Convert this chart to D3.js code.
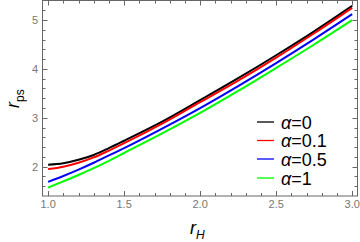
<!DOCTYPE html>
<html><head><meta charset="utf-8">
<script src="https://cdn.jsdelivr.net/npm/d3@7"></script>
<style>body{margin:0;background:#fff}svg{display:block}</style>
</head><body>
<svg id="c" width="360" height="242"></svg>
<script>
const rH = [1.0, 1.1, 1.2, 1.3, 1.4, 1.5, 1.75, 2.0, 2.25, 2.5, 2.75, 3.0];
const alpha0   = [2.04, 2.07, 2.14, 2.24, 2.38, 2.53, 2.92, 3.36, 3.81, 4.28, 4.77, 5.29];
const alpha01  = [1.95, 2.00, 2.08, 2.19, 2.33, 2.48, 2.88, 3.32, 3.76, 4.23, 4.73, 5.25];
const alpha05  = [1.69, 1.81, 1.94, 2.08, 2.23, 2.38, 2.78, 3.20, 3.65, 4.12, 4.61, 5.12];
const alpha1   = [1.57, 1.70, 1.83, 1.97, 2.12, 2.28, 2.68, 3.10, 3.55, 4.02, 4.50, 5.00];
const seriesNames = ["α=0", "α=0.1", "α=0.5", "α=1"];
const seriesColors = ["#000000", "#ff0000", "#0000ff", "#00ff00"];
const xTicks = [1.0, 1.5, 2.0, 2.5, 3.0];
const yTicks = [2, 3, 4, 5];

const series = [alpha0, alpha01, alpha05, alpha1];
const svg = d3.select("#c");
const L = 42.5, R = 357.5, T = 0.5, B = 196;
const x = d3.scaleLinear().domain([0.963, 3.035]).range([L, R]);
const y = d3.scaleLinear().domain([1.40, 5.40]).range([B, T]);
const frameColor = "#666";
const labColor = "#777";

// frame
svg.append("rect").attr("x", L).attr("y", T).attr("width", R - L).attr("height", B - T)
  .attr("fill", "none").attr("stroke", frameColor).attr("stroke-width", 1);

const xMinor = d3.range(10, 31).map(d => d / 10);
const yMinor = d3.range(8, 27).map(d => d / 5).filter(v => v >= 1.4 && v <= 5.4);
const tg = svg.append("g").attr("stroke", frameColor).attr("stroke-width", 1);
xMinor.forEach(v => {
  const major = xTicks.some(t => Math.abs(t - v) < 1e-6);
  const len = major ? 5 : 3;
  const px = Math.round(x(v)) + 0.5;
  tg.append("line").attr("x1", px).attr("x2", px).attr("y1", B).attr("y2", B - len);
  tg.append("line").attr("x1", px).attr("x2", px).attr("y1", T).attr("y2", T + len);
});
yMinor.forEach(v => {
  const major = yTicks.some(t => Math.abs(t - v) < 1e-6);
  const len = major ? 5 : 3;
  const py = Math.round(y(v)) + 0.5;
  tg.append("line").attr("x1", L).attr("x2", L + len).attr("y1", py).attr("y2", py);
  tg.append("line").attr("x1", R).attr("x2", R - len).attr("y1", py).attr("y2", py);
});

// tick labels
svg.append("g").selectAll("text").data(xTicks).join("text")
  .attr("x", d => x(d)).attr("y", 208).attr("text-anchor", "middle")
  .attr("font-family", "Liberation Sans, Arial, sans-serif").attr("font-size", 11)
  .attr("fill", labColor).text(d => d.toFixed(1));
svg.append("g").selectAll("text").data(yTicks).join("text")
  .attr("x", 38).attr("y", d => y(d) + 4).attr("text-anchor", "end")
  .attr("font-family", "Liberation Sans, Arial, sans-serif").attr("font-size", 11)
  .attr("fill", labColor).text(d => d);

// curves
const line = d3.line().x((d, i) => x(rH[i])).y(d => y(d)).curve(d3.curveMonotoneX);
series.forEach((s, i) => {
  svg.append("path").datum(s).attr("d", line).attr("fill", "none")
    .attr("stroke", seriesColors[i]).attr("stroke-width", 2);
});

// axis labels
const xl = svg.append("text").attr("x", 190).attr("y", 234)
  .attr("font-family", "Liberation Sans, Arial, sans-serif").attr("fill", "#000");
xl.append("tspan").attr("font-style", "italic").attr("font-size", 18).text("r");
xl.append("tspan").attr("font-style", "italic").attr("font-size", 12).attr("dy", 5).text("H");

const yl = svg.append("text").attr("transform", "translate(19,108) rotate(-90)")
  .attr("font-family", "Liberation Sans, Arial, sans-serif").attr("fill", "#000");
yl.append("tspan").attr("font-style", "italic").attr("font-size", 18).text("r");
yl.append("tspan").attr("font-size", 12).attr("dy", 5).text("ps");

// legend
const lg = svg.append("g");
const rowsY = [122, 140.5, 159, 178];
seriesNames.forEach((n, i) => {
  lg.append("line").attr("x1", 257).attr("x2", 274).attr("y1", rowsY[i]).attr("y2", rowsY[i])
    .attr("stroke", seriesColors[i]).attr("stroke-width", 1.3);
  const t = lg.append("text").attr("x", 281).attr("y", rowsY[i] + 6.5)
    .attr("font-family", "Liberation Sans, Arial, sans-serif").attr("font-size", 18).attr("fill", "#000");
  t.append("tspan").attr("font-style", "italic").text(n.slice(0, 1));
  t.append("tspan").text(n.slice(1));
});
</script>
</body></html>
